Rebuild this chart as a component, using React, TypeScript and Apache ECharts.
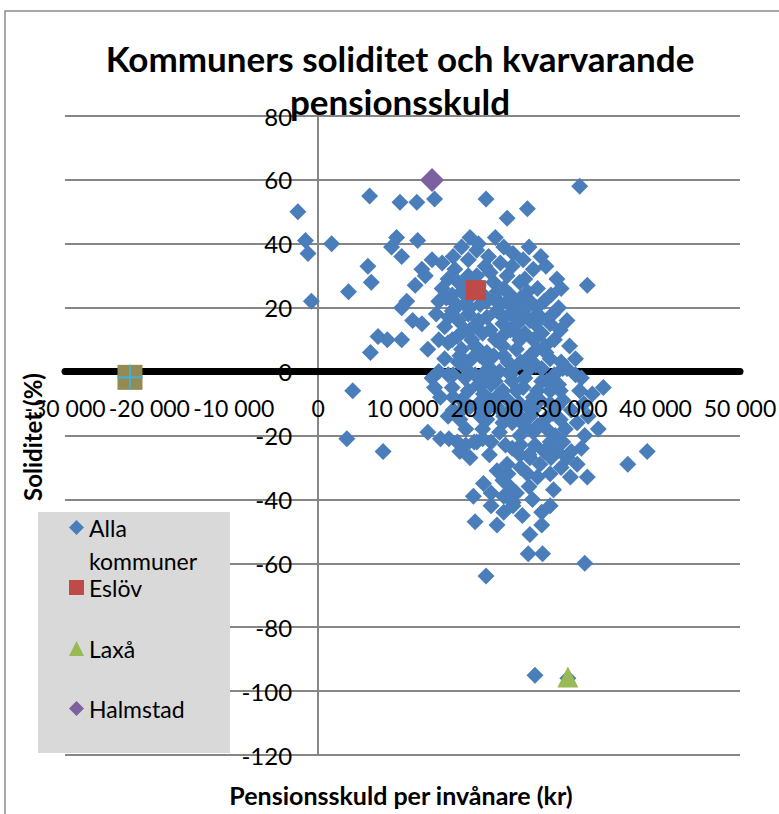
import React, { useEffect, useRef } from "react";
import * as echarts from "echarts";

const titleText = "Kommuners soliditet och kvarvarande\npensionsskuld";
const xAxisTitle = "Pensionsskuld per invånare (kr)";
const yAxisTitle = "Soliditet (%)";

const xMin = -30000;
const xMax = 50000;
const xStep = 10000;
const yMin = -120;
const yMax = 80;
const yStep = 20;

// [pensionsskuld per invånare (kr), soliditet (%)]
const allaKommuner: [number, number][] = [
  [-2400, 50], [-1500, 41], [-1200, 37], [-800, 22], [1600, 40], [3600, 25], [6100, 55], [5900, 33],
  [6300, 28], [9700, 53], [11700, 53], [13800, 54], [9300, 42], [8700, 39], [9900, 36], [11800, 41],
  [13500, 35], [12300, 32], [12700, 30], [11500, 27], [11200, 16], [12300, 15], [9900, 20], [10500, 22],
  [7100, 11], [8200, 10], [9900, 10], [6200, 6], [13000, 7], [15400, 9], [13500, -2], [13800, -5],
  [4100, -6], [3400, -21], [7700, -25], [13000, -19],
  [19900, 54], [31000, 58], [24800, 51], [22400, 48], [21000, 42], [18000, 42], [26400, 36], [28300, 29],
  [28800, 26], [31900, 27], [27800, 18], [26000, 11], [33800, -5], [29000, 1], [31000, -6], [28700, -6],
  [39000, -25], [36700, -29], [33200, -18], [31600, -20], [29900, -33], [31900, -33], [27900, -37], [27500, -42],
  [26500, -44], [26500, -48], [25100, -51], [24900, -57], [26600, -57], [31600, -60], [19900, -64], [23100, -42],
  [21200, -48], [20500, -42], [18600, -47], [22700, -36], [18400, -39], [25700, -95], [29600, -96],
  [14500, -21], [15500, -21], [16500, -22], [17500, -23], [18500, -22], [19500, -21], [15400, -14], [16000, -12],
  [18800, -22], [20000, -15], [21900, -16], [23900, -14], [25500, -19], [27100, -18], [28700, -15], [30700, -16],
  [28300, -25], [29500, -27], [30700, -29], [25100, -27], [26300, -29], [23900, -26], [22400, -29], [21900, -34],
  [19600, -35], [21200, -31], [24800, -32], [27500, -32], [25400, -40], [23100, -41],
  [21900, 8], [23900, 10], [25900, 7], [27500, 4], [29500, 1], [20400, 1], [23100, 1], [25100, 1],
  [27100, -3], [24300, -5], [21900, -6], [19600, -7], [26300, -9], [28300, -11], [23900, -10], [21200, -11],
  [18800, 38], [23100, 37], [24300, 35], [25500, 32], [21600, 34], [20400, 31], [22400, 30], [23900, 28],
  [24800, 25], [22800, 24], [21200, 25], [19600, 24], [23600, 22], [25100, 22], [25900, 20], [24300, 19],
  [22800, 18], [21200, 19], [20000, 17], [21900, 15], [23600, 15], [25100, 16], [26300, 17], [20400, 13],
  [22800, 13], [18800, 15], [19200, 21], [18800, 30],
  [17000, 39], [17800, 35], [16200, 32], [14700, 34], [15400, 29], [16600, 28], [17800, 30], [18200, 24],
  [15900, 24], [14700, 26], [17400, 21], [15900, 19], [17800, 18], [16600, 16], [15000, 14], [17400, 13],
  [15900, 10], [18200, 10], [17000, 7], [15000, 4], [16600, 3], [18200, 4], [15400, -1], [17400, -2],
  [15900, -5], [17800, -6], [17000, -9],
  [18600, 8], [19200, 5], [20400, -1], [22000, 5], [18600, -1], [19700, -3], [22800, -1], [25100, 5],
  [26900, 8], [28000, 10], [28700, 13], [27500, 15], [23900, 11], [25700, 15], [21000, 10], [20400, -9],
  [18000, -11], [19200, -14], [16800, -15], [22800, -12], [25100, -14], [26900, -15], [29300, -18], [28100, -20],
  [23900, -20], [22200, -23], [25700, -23], [27500, -22],
  [19000, 27], [20800, 28], [22000, 26], [23000, 20], [24500, 12], [26500, 12], [27000, 6], [24000, 3],
  [22500, 3], [20800, 5], [19500, 12], [18000, 20], [17000, 25], [16000, 22], [20000, 22], [21500, 21],
  [24500, 29], [26000, 26], [23000, 33], [19800, 33], [16500, 11], [17500, 1], [19000, -4], [21000, -3],
  [23500, -6], [25500, -8], [27500, -6], [29000, -9], [30000, -12], [26500, -3], [24500, -2], [22500, -9],
  [20000, -12], [21500, -19], [23000, -24], [24500, -17], [26800, -25], [29000, -22], [19500, -18], [17500, -18],
  [25800, 2], [28000, -1], [30500, -1], [31500, -10], [24000, -30],
  [16000, 36], [19000, 40], [22000, 39], [25000, 39], [27000, 33], [26800, 22], [27600, 24], [28500, 20],
  [29500, 16], [29800, 8], [30500, 4], [26000, -17], [27600, -27], [28800, -30], [30000, -25], [31200, -24],
  [32000, -14], [32500, -7], [31200, -2], [25000, -36], [23500, -38], [22000, -39], [20500, -38], [24200, -45],
  [22000, -44], [20300, -26], [18000, -27], [16800, -25], [16000, -8], [14500, -8], [14300, 0], [14300, 10],
  [14000, 18], [14300, 22], [15500, 17], [16800, 5], [19800, 0], [21500, -7], [23000, -3], [24800, -11],
  [26000, -6], [28800, 3], [27800, -13], [20500, -4], [19000, 16], [21800, 11], [23500, 7], [25500, 10],
  [24000, 23], [20200, 36], [22500, 22],
  [16300, 20], [15200, 23], [17500, 28], [21000, 23], [22000, 17], [24000, 17], [26000, 18], [19000, 7],
  [20000, 3], [21500, 0], [23000, -16], [25500, -12], [24000, -23], [26000, -33], [22500, -32], [20500, -22],
  [19000, -10], [17000, -12], [16000, -1], [25000, -26], [27500, -10], [28500, -4], [26500, 1], [22000, -14],
  [18000, 13], [20000, 6],
];
const eslov: [number, number][] = [[18700, 25.5]];
const laxa: [number, number][] = [[29600, -95.6]];
const halmstad: [number, number][] = [[13500, 60]];
const extraPoint: [number, number][] = [[-22300, -1.8]];

const seriesNames = ["Alla kommuner", "Eslöv", "Laxå", "Halmstad"];

const FONT = "Lato, 'Open Sans', sans-serif";

const GRID = { left: 65, right: 39, top: 116, bottom: 59 };
const CHART_W = 779;
const CHART_H = 814;

function fmtThousands(v: number): string {
  const s = Math.abs(v).toString().replace(/\B(?=(\d{3})+(?!\d))/g, " ");
  return (v < 0 ? "-" : "") + s;
}

export default function App() {
  const ref = useRef<HTMLDivElement>(null);
  useEffect(() => {
    if (!ref.current) return;
    const chart = echarts.init(ref.current, undefined, { renderer: "svg" });
    // offsets that put each axis where the other axis crosses zero
    const plotW = CHART_W - GRID.left - GRID.right;
    const plotH = CHART_H - GRID.top - GRID.bottom;
    const yAxisOffset = -((0 - xMin) / (xMax - xMin)) * plotW;
    const xAxisOffset = -((0 - yMin) / (yMax - yMin)) * plotH;
    const xBase = {
      type: "value",
      position: "bottom",
      min: xMin,
      max: xMax,
      interval: xStep,
      offset: xAxisOffset,
      axisTick: { show: false },
      splitLine: { show: false },
    };
    const legendBase = {
      orient: "vertical",
      left: 69,
      padding: 0,
      itemWidth: 15,
      itemHeight: 15,
      itemGap: 0,
      selectedMode: false,
      textStyle: { fontFamily: FONT, fontSize: 23, color: "#000", lineHeight: 33 },
    };
    chart.setOption({
      animation: false,
      backgroundColor: "#ffffff",
      title: {
        text: titleText,
        left: 400,
        top: 36,
        padding: 0,
        textAlign: "center",
        textStyle: { fontFamily: FONT, fontWeight: "bold", fontSize: 35, lineHeight: 43, color: "#000" },
      },
      grid: { ...GRID, containLabel: false, outerBoundsMode: "none" },
      xAxis: [
        {
          ...xBase,
          axisLine: { onZero: false, lineStyle: { color: "#000", width: 7 } },
          axisLabel: { show: false },
        },
        {
          ...xBase,
          z: 10,
          axisLine: { show: false, onZero: false },
          axisLabel: {
            formatter: fmtThousands,
            fontFamily: FONT,
            fontSize: 23,
            color: "#000",
            margin: 25,
            showMinLabel: true,
            showMaxLabel: true,
            hideOverlap: false,
          },
        },
      ],
      yAxis: {
        type: "value",
        min: yMin,
        max: yMax,
        interval: yStep,
        offset: yAxisOffset,
        axisLine: { onZero: false, lineStyle: { color: "#868686", width: 2 } },
        axisTick: { show: false },
        splitLine: { lineStyle: { color: "#868686", width: 2 } },
        axisLabel: {
          fontFamily: FONT,
          fontSize: 24,
          color: "#000",
          margin: 26,
          showMinLabel: true,
          showMaxLabel: true,
          hideOverlap: false,
        },
      },
      legend: [
        { ...legendBase, top: 478, data: [seriesNames[0]], formatter: () => " \nAlla\nkommuner" },
        { ...legendBase, top: 571, data: [seriesNames[1]] },
        { ...legendBase, top: 632, data: [seriesNames[2]] },
        { ...legendBase, top: 692, data: [seriesNames[3]] },
      ],
      graphic: [
        {
          type: "rect",
          shape: { x: 5, y: 11, width: 900, height: 900 },
          style: { fill: "none", stroke: "#8c8c8c", lineWidth: 1.5 },
          z: 1,
        },
        {
          type: "rect",
          shape: { x: 38, y: 512, width: 192, height: 241 },
          style: { fill: "#D9D9D9" },
          z: 3,
        },
        {
          type: "text",
          x: 401,
          y: 795,
          style: { text: xAxisTitle, font: `bold 25px ${FONT}`, align: "center", verticalAlign: "middle", fill: "#000" },
          z: 5,
        },
        {
          type: "text",
          x: 32,
          y: 437,
          rotation: Math.PI / 2,
          style: { text: yAxisTitle, font: `bold 24px ${FONT}`, align: "center", verticalAlign: "middle", fill: "#000" },
          z: 5,
        },
      ],
      series: [
        {
          name: seriesNames[0],
          type: "scatter",
          symbol: "diamond",
          symbolSize: 17,
          itemStyle: { color: "#4A7EBB", opacity: 1 },
          data: allaKommuner,
        },
        {
          name: seriesNames[1],
          type: "scatter",
          symbol: "rect",
          symbolSize: 20,
          itemStyle: { color: "#BE4B48", opacity: 1 },
          data: eslov,
        },
        {
          name: seriesNames[2],
          type: "scatter",
          symbol: "triangle",
          symbolSize: 21,
          itemStyle: { color: "#98B954", opacity: 1 },
          data: laxa,
        },
        {
          name: seriesNames[3],
          type: "scatter",
          symbol: "diamond",
          symbolSize: 24,
          itemStyle: { color: "#7D60A0", opacity: 1 },
          data: halmstad,
        },
        {
          name: "extra",
          type: "scatter",
          symbol: "rect",
          symbolSize: 25,
          itemStyle: { color: "#948A54", opacity: 1 },
          data: extraPoint,
        },
        {
          name: "extra2",
          type: "scatter",
          symbol: "path://M-1,-12 L1,-12 L1,-1 L12,-1 L12,1 L1,1 L1,12 L-1,12 L-1,1 L-12,1 L-12,-1 L-1,-1 Z",
          symbolSize: 25,
          itemStyle: { color: "#4BACC6", opacity: 1 },
          data: extraPoint,
        },
      ],
    });
    return () => chart.dispose();
  }, []);
  return <div ref={ref} style={{ position: "absolute", left: 0, top: 0, width: CHART_W, height: CHART_H }} />;
}
